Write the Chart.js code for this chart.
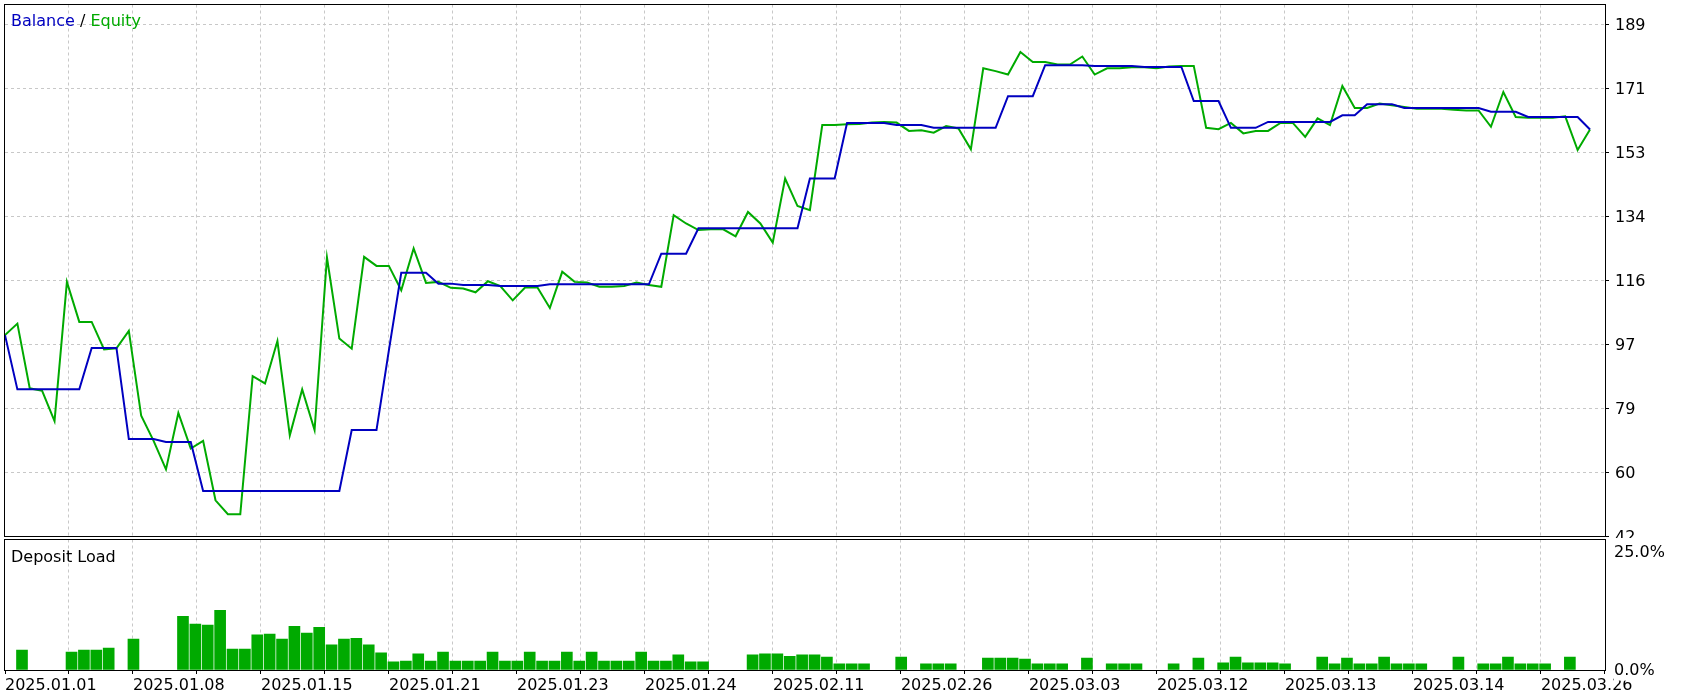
<!DOCTYPE html>
<html><head><meta charset="utf-8">
<script src="https://cdn.jsdelivr.net/npm/chart.js@4.4.1/dist/chart.umd.min.js"></script>
<style>
html,body{margin:0;padding:0;background:#fff;width:1690px;height:699px;overflow:hidden;}
canvas{position:absolute;left:0;}
#topc{top:0;}
#botc{top:538px;}
.lbl{position:absolute;font-family:"DejaVu Sans",sans-serif;font-size:16px;line-height:16px;white-space:pre;color:#000;}
</style></head><body>
<canvas id="topc" width="1690" height="538"></canvas>
<canvas id="botc" width="1690" height="161"></canvas>
<div class="lbl" style="left:11px;top:13px"><span style="color:rgb(0,0,192)">Balance</span> / <span style="color:rgb(0,170,0)">Equity</span></div>
<div class="lbl" style="left:11px;top:549px">Deposit Load</div>
<script>
// ---- data (one entry per deal) ----
const balance = [
 99.9, 84.3, 84.3, 84.3, 84.3, 84.3, 84.3, 96.2, 96.2, 96.2,
 70.0, 70.0, 70.0, 69.2, 69.2, 69.2, 55.1, 55.1, 55.1, 55.1,
 55.1, 55.1, 55.1, 55.1, 55.1, 55.1, 55.1, 55.1, 72.6, 72.6,
 72.6, 95.5, 117.8, 117.8, 117.8, 114.7, 114.7, 114.3, 114.3, 114.3,
 114.0, 114.0, 114.0, 114.0, 114.5, 114.5, 114.5, 114.5, 114.5, 114.5,
 114.5, 114.5, 114.5, 123.3, 123.3, 123.3, 130.6, 130.6, 130.6, 130.6,
 130.6, 130.6, 130.6, 130.6, 130.6, 144.9, 144.9, 144.9, 160.9, 160.9,
 160.9, 160.9, 160.3, 160.3, 160.3, 159.5, 159.5, 159.5, 159.5, 159.5,
 159.5, 168.6, 168.6, 168.6, 177.5, 177.5, 177.5, 177.5, 177.3, 177.3,
 177.3, 177.3, 177.0, 177.0, 177.0, 177.0, 167.2, 167.2, 167.2, 159.5,
 159.5, 159.5, 161.2, 161.2, 161.2, 161.2, 161.2, 161.2, 163.1, 163.1,
 166.3, 166.3, 166.3, 165.2, 165.2, 165.2, 165.2, 165.2, 165.2, 165.2,
 164.1, 164.1, 164.1, 162.6, 162.6, 162.6, 162.6, 162.6, 159.0
];
const equity = [
 99.9, 103.2, 84.6, 83.9, 75.2, 115.2, 103.7, 103.7, 95.8, 96.1,
 101.1, 76.7, 69.5, 61.3, 77.5, 67.3, 69.5, 52.4, 48.4, 48.4,
 88.1, 86.0, 98.2, 71.1, 84.3, 72.6, 122.2, 98.9, 96.0, 122.4,
 119.8, 119.8, 112.8, 124.8, 114.9, 115.2, 113.5, 113.3, 112.2, 115.4,
 114.0, 109.9, 113.6, 113.6, 107.7, 118.1, 115.2, 115.0, 113.8, 113.8,
 114.0, 115.0, 114.3, 113.8, 134.4, 132.0, 130.1, 130.3, 130.3, 128.3,
 135.3, 132.0, 126.5, 144.9, 137.0, 135.8, 160.3, 160.3, 160.5, 160.6,
 161.0, 161.2, 161.0, 158.6, 158.8, 158.1, 160.0, 159.3, 153.3, 176.6,
 175.8, 174.8, 181.3, 178.4, 178.4, 177.7, 177.7, 180.0, 174.8, 176.6,
 176.6, 176.9, 176.9, 176.6, 177.1, 177.3, 177.3, 159.5, 159.1, 160.9,
 157.9, 158.6, 158.6, 160.9, 160.9, 156.9, 162.2, 160.3, 171.5, 165.2,
 165.2, 166.5, 166.0, 165.5, 165.0, 165.0, 165.0, 164.7, 164.5, 164.5,
 159.8, 169.8, 162.6, 162.4, 162.4, 162.4, 162.8, 153.1, 159.0
];
const depositLoad = [
 4.2, null, null, null, 3.8, 4.2, 4.2, 4.6, null, 6.5,
 null, null, null, 11.3, 9.7, 9.5, 12.6, 4.4, 4.4, 7.4,
 7.6, 6.5, 9.2, 7.8, 9.0, 5.3, 6.5, 6.7, 5.3, 3.6,
 1.7, 1.9, 3.4, 1.9, 3.8, 1.9, 1.9, 1.9, 3.8, 1.9,
 1.9, 3.8, 1.9, 1.9, 3.8, 1.9, 3.8, 1.9, 1.9, 1.9,
 3.8, 1.9, 1.9, 3.2, 1.7, 1.7, null, null, null, 3.2,
 3.4, 3.4, 2.9, 3.2, 3.2, 2.7, 1.3, 1.3, 1.3, null,
 null, 2.7, null, 1.3, 1.3, 1.3, null, null, 2.5, 2.5,
 2.5, 2.3, 1.3, 1.3, 1.3, null, 2.5, null, 1.3, 1.3,
 1.3, null, null, 1.3, null, 2.5, null, 1.5, 2.7, 1.5,
 1.5, 1.5, 1.3, null, null, 2.7, 1.3, 2.5, 1.3, 1.3,
 2.7, 1.3, 1.3, 1.3, null, null, 2.7, null, 1.3, 1.3,
 2.7, 1.3, 1.3, 1.3, null, 2.7
];
const dateLabels = ['2025.01.01','2025.01.08','2025.01.15','2025.01.21','2025.01.23','2025.01.24',
  '2025.02.11','2025.02.26','2025.03.03','2025.03.12','2025.03.13','2025.03.14','2025.03.26'];
const yTickValues = [42, 60.4, 78.8, 97.2, 115.6, 134, 152.4, 170.8, 189.2];
const yTickLabels = ['42','60','79','97','116','134','153','171','189'];
const loadTickValues = [0, 25];
const loadTickLabels = ['0.0%','25.0%'];

// ---- layout constants ----
const X_MAX = 129.21;       // deal-index range covered by the plot width
const GRID_STEP = 5.168;    // vertical grid spacing in deal units
const GRID_COUNT = 25;
const BAR_OFFSET = 1.373;   // histogram shift relative to the curve
const Y_MIN = 42, Y_MAX = 194.95;
const LOAD_MAX = 27.53;
const BLUE = 'rgb(0,0,192)', GREEN = 'rgb(0,170,0)', GRIDC = '#c8c8c8';

Chart.defaults.font.family = '"DejaVu Sans", sans-serif';
Chart.defaults.font.size = 16;
Chart.defaults.color = '#000';

const frame = {
  id: 'frame',
  afterDraw(chart) {
    const {ctx, chartArea: a} = chart;
    ctx.save();
    ctx.strokeStyle = '#000'; ctx.lineWidth = 1; ctx.setLineDash([]);
    const x0 = Math.round(a.left) - 0.5, x1 = Math.round(a.right) + 0.5;
    const y0 = Math.floor(a.top) + 0.5, y1 = Math.floor(a.bottom) + 0.5;
    ctx.strokeRect(x0, y0, x1 - x0, y1 - y0);
    ctx.restore();
  }
};
const gridColor = (c) => (c.index === 0 || c.index === GRID_COUNT) ? 'rgba(0,0,0,0)' : GRIDC;

new Chart(document.getElementById('topc'), {
  type: 'line',
  data: { datasets: [
    { label: 'Balance', data: balance.map((v, i) => ({x: i, y: v})), borderColor: BLUE, borderWidth: 2,
      pointRadius: 0, tension: 0, order: 0 },
    { label: 'Equity', data: equity.map((v, i) => ({x: i, y: v})), borderColor: GREEN, borderWidth: 2,
      pointRadius: 0, tension: 0, order: 1 }
  ]},
  options: {
    responsive: false, animation: false, events: [],
    layout: { padding: { left: 5, top: 4.5, right: 0, bottom: 1.5 } },
    plugins: { legend: { display: false }, tooltip: { enabled: false } },
    scales: {
      x: { type: 'linear', min: 0, max: X_MAX,
        afterBuildTicks: s => { s.ticks = Array.from({length: GRID_COUNT + 1}, (_, j) => ({value: j * GRID_STEP})); },
        ticks: { display: false },
        grid: { color: gridColor, drawTicks: false },
        border: { display: false, dash: [3, 3] },
        afterFit: s => { s.height = 0; s.paddingLeft = 0; s.paddingRight = 0; } },
      y: { type: 'linear', position: 'right', min: Y_MIN, max: Y_MAX,
        afterBuildTicks: s => { s.ticks = yTickValues.map(v => ({value: v})); },
        ticks: { callback: (v, i) => yTickLabels[i], padding: 6, labelOffset: 1, color: '#000' },
        grid: { color: (c) => c.index === 0 ? 'rgba(0,0,0,0)' : GRIDC, tickColor: '#000', tickLength: 4, tickBorderDash: [] },
        border: { display: true, color: '#000', dash: [3, 3] },
        afterFit: s => { s.width = 85; s.paddingTop = 0; s.paddingBottom = 0; } }
    }
  },
  plugins: [frame]
});

new Chart(document.getElementById('botc'), {
  type: 'bar',
  data: { datasets: [
    { label: 'Deposit Load', data: depositLoad.map((v, k) => ({x: k, y: v})), backgroundColor: GREEN,
      borderWidth: 0, barThickness: 11 }
  ]},
  options: {
    responsive: false, animation: false, events: [],
    layout: { padding: { left: 5, top: 1.5, right: 0, bottom: 0 } },
    plugins: { legend: { display: false }, tooltip: { enabled: false } },
    scales: {
      x: { type: 'linear', min: -BAR_OFFSET, max: X_MAX - BAR_OFFSET, offset: false,
        afterBuildTicks: s => { s.ticks = Array.from({length: GRID_COUNT + 1}, (_, j) => ({value: -BAR_OFFSET + j * GRID_STEP})); },
        ticks: { autoSkip: false, maxRotation: 0, minRotation: 0, align: 'start', padding: 2, color: '#000',
          callback: (v, i) => (i % 2 === 0 && dateLabels[i / 2]) ? dateLabels[i / 2] : '' },
        grid: { color: gridColor, offset: false, tickColor: '#000', tickLength: 4, tickBorderDash: [] },
        border: { display: true, color: '#000', dash: [3, 3] },
        afterFit: s => { s.height = 29; s.paddingLeft = 0; s.paddingRight = 0; } },
      y: { type: 'linear', position: 'right', min: 0, max: LOAD_MAX,
        afterBuildTicks: s => { s.ticks = loadTickValues.map(v => ({value: v})); },
        ticks: { callback: (v, i) => loadTickLabels[i], padding: 9, labelOffset: 1, color: '#000',
          showLabelBackdrop: true, backdropColor: '#fff', backdropPadding: 0 },
        grid: { drawOnChartArea: false, drawTicks: false },
        border: { display: true, color: '#000' },
        afterFit: s => { s.width = 85; s.paddingTop = 0; s.paddingBottom = 0; } }
    }
  },
  plugins: [frame]
});
</script>
</body></html>
